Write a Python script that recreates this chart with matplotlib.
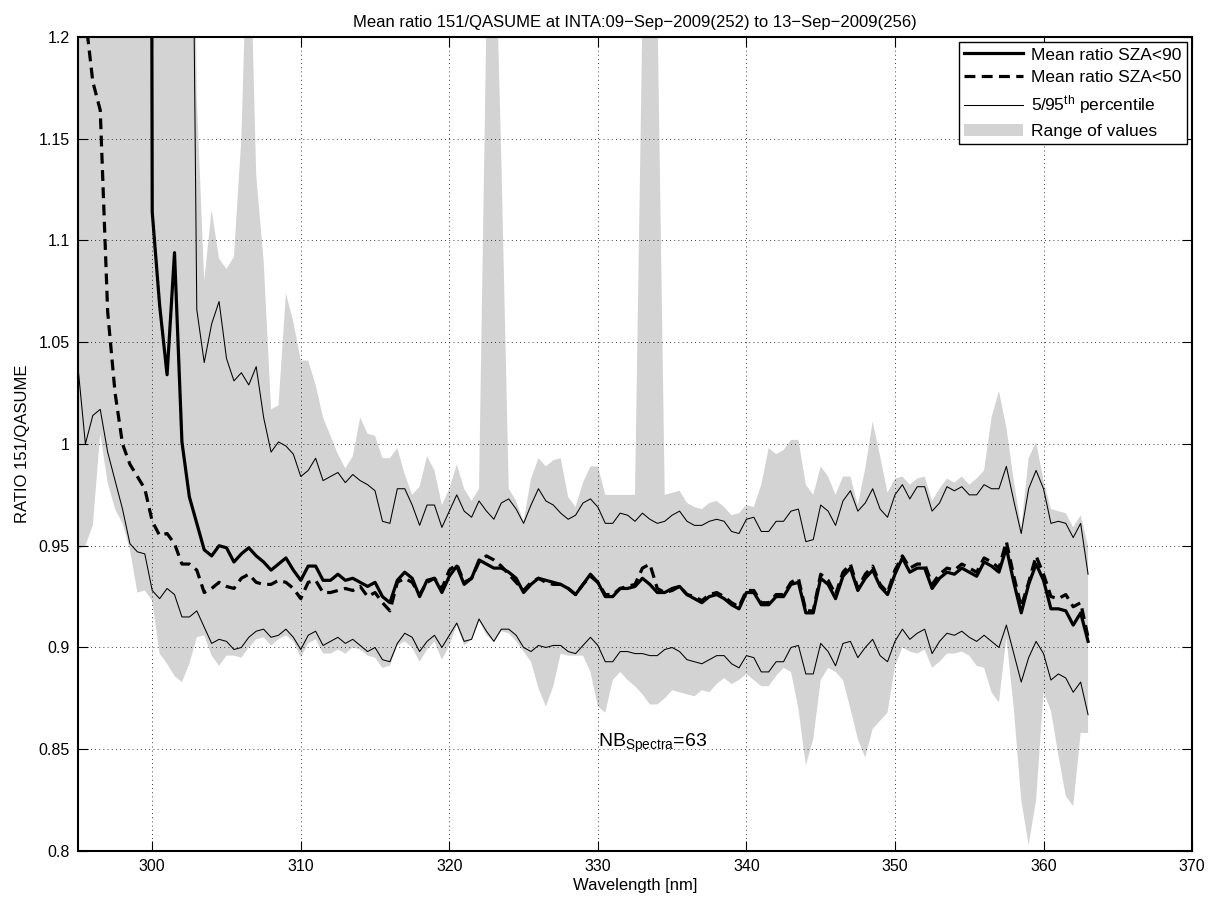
import numpy as np
import matplotlib
matplotlib.use("Agg")
import matplotlib.pyplot as plt
from matplotlib.patches import Patch
from matplotlib.lines import Line2D
from matplotlib.ticker import FuncFormatter

plt.rcParams['font.family'] = ['Liberation Sans', 'DejaVu Sans']
plt.rcParams['mathtext.default'] = 'regular'

# wavelength grid, 0.5 nm steps from 295 to 363 nm
wl = np.arange(295, 363.25, 0.5)

# mean ratio, all spectra (SZA<90)
mean90 = [2.9, 2.9, 2.9, 2.9, 2.9, 2.9, 2.9, 2.9, 2.9, 2.9,
          1.114, 1.068, 1.034, 1.094, 1.001, 0.974, 0.961, 0.948, 0.945, 0.950,
          0.949, 0.942, 0.946, 0.949, 0.945, 0.942, 0.938, 0.941, 0.944, 0.938,
          0.933, 0.940, 0.940, 0.933, 0.933, 0.936, 0.933, 0.934, 0.932, 0.930,
          0.932, 0.925, 0.922, 0.933, 0.937, 0.934, 0.925, 0.933, 0.934, 0.927,
          0.935, 0.940, 0.931, 0.934, 0.943, 0.941, 0.939, 0.939, 0.937, 0.934,
          0.927, 0.931, 0.934, 0.933, 0.932, 0.931, 0.929, 0.926, 0.931, 0.936,
          0.932, 0.925, 0.925, 0.929, 0.929, 0.930, 0.934, 0.931, 0.927, 0.927,
          0.929, 0.930, 0.926, 0.924, 0.922, 0.925, 0.926, 0.924, 0.921, 0.919,
          0.927, 0.927, 0.921, 0.921, 0.925, 0.925, 0.931, 0.932, 0.917, 0.917,
          0.934, 0.931, 0.924, 0.935, 0.939, 0.928, 0.934, 0.938, 0.930, 0.926,
          0.936, 0.944, 0.937, 0.939, 0.939, 0.929, 0.934, 0.937, 0.936, 0.939,
          0.937, 0.935, 0.942, 0.940, 0.937, 0.949, 0.932, 0.917, 0.931, 0.941,
          0.933, 0.919, 0.919, 0.918, 0.911, 0.917, 0.903]

# mean ratio, SZA<50
mean50 = [1.35, 1.21, 1.178, 1.164, 1.065, 1.025, 1.0, 0.99, 0.984, 0.978,
          0.962, 0.955, 0.956, 0.951, 0.941, 0.941, 0.938, 0.927, 0.929, 0.932,
          0.930, 0.929, 0.934, 0.936, 0.932, 0.931, 0.931, 0.933, 0.932, 0.929,
          0.924, 0.932, 0.933, 0.927, 0.927, 0.928, 0.929, 0.928, 0.930, 0.925,
          0.927, 0.922, 0.918, 0.932, 0.934, 0.932, 0.926, 0.932, 0.934, 0.929,
          0.938, 0.941, 0.932, 0.934, 0.942, 0.945, 0.943, 0.940, 0.936, 0.932,
          0.928, 0.932, 0.934, 0.932, 0.931, 0.931, 0.929, 0.926, 0.931, 0.935,
          0.932, 0.926, 0.926, 0.929, 0.930, 0.931, 0.939, 0.941, 0.929, 0.927,
          0.928, 0.930, 0.926, 0.925, 0.923, 0.926, 0.927, 0.925, 0.922, 0.920,
          0.928, 0.928, 0.922, 0.922, 0.926, 0.926, 0.932, 0.934, 0.918, 0.918,
          0.936, 0.933, 0.926, 0.937, 0.941, 0.929, 0.936, 0.940, 0.931, 0.927,
          0.938, 0.945, 0.939, 0.941, 0.941, 0.931, 0.936, 0.939, 0.938, 0.941,
          0.939, 0.937, 0.944, 0.942, 0.939, 0.952, 0.935, 0.920, 0.932, 0.945,
          0.936, 0.925, 0.924, 0.926, 0.920, 0.922, 0.905]

# 95th percentile
p95 = [1.62, 1.60, 1.58, 1.57, 1.55, 1.52, 1.50, 1.48, 1.46, 1.45,
       1.44, 1.42, 1.40, 1.38, 1.36, 1.45, 1.066, 1.040, 1.059, 1.070,
       1.042, 1.031, 1.035, 1.029, 1.038, 1.013, 0.996, 1.001, 0.999, 0.995,
       0.984, 0.987, 0.993, 0.982, 0.984, 0.986, 0.981, 0.985, 0.982, 0.980,
       0.977, 0.962, 0.961, 0.978, 0.978, 0.970, 0.960, 0.970, 0.970, 0.959,
       0.967, 0.975, 0.967, 0.964, 0.972, 0.967, 0.963, 0.971, 0.973, 0.968,
       0.961, 0.970, 0.978, 0.972, 0.970, 0.966, 0.963, 0.965, 0.971, 0.973,
       0.969, 0.961, 0.961, 0.966, 0.965, 0.962, 0.966, 0.963, 0.961, 0.962,
       0.965, 0.967, 0.962, 0.960, 0.960, 0.962, 0.963, 0.962, 0.957, 0.956,
       0.963, 0.964, 0.957, 0.957, 0.962, 0.962, 0.967, 0.968, 0.952, 0.953,
       0.970, 0.967, 0.960, 0.972, 0.977, 0.967, 0.971, 0.978, 0.968, 0.964,
       0.975, 0.980, 0.973, 0.979, 0.979, 0.967, 0.971, 0.979, 0.977, 0.979,
       0.975, 0.975, 0.980, 0.978, 0.978, 0.989, 0.972, 0.956, 0.978, 0.987,
       0.978, 0.961, 0.962, 0.961, 0.954, 0.961, 0.936]

# 5th percentile
p05 = [1.038, 1.000, 1.014, 1.017, 0.996, 0.982, 0.968, 0.951, 0.947, 0.946,
       0.928, 0.924, 0.929, 0.926, 0.915, 0.915, 0.918, 0.910, 0.902, 0.904,
       0.903, 0.899, 0.900, 0.905, 0.908, 0.909, 0.905, 0.906, 0.909, 0.905,
       0.899, 0.906, 0.908, 0.901, 0.903, 0.905, 0.902, 0.904, 0.901, 0.898,
       0.900, 0.894, 0.893, 0.902, 0.907, 0.905, 0.898, 0.903, 0.906, 0.900,
       0.906, 0.912, 0.903, 0.904, 0.914, 0.908, 0.903, 0.909, 0.909, 0.906,
       0.900, 0.898, 0.901, 0.900, 0.901, 0.901, 0.898, 0.897, 0.901, 0.905,
       0.901, 0.893, 0.893, 0.898, 0.898, 0.897, 0.897, 0.896, 0.896, 0.899,
       0.900, 0.898, 0.894, 0.893, 0.892, 0.894, 0.896, 0.896, 0.892, 0.890,
       0.896, 0.895, 0.888, 0.888, 0.893, 0.893, 0.900, 0.901, 0.887, 0.887,
       0.902, 0.898, 0.891, 0.902, 0.903, 0.895, 0.900, 0.904, 0.896, 0.893,
       0.903, 0.909, 0.904, 0.907, 0.909, 0.897, 0.903, 0.907, 0.906, 0.908,
       0.905, 0.903, 0.906, 0.903, 0.900, 0.911, 0.897, 0.883, 0.895, 0.903,
       0.897, 0.884, 0.887, 0.885, 0.878, 0.883, 0.867]

# full range of values (max / min)
range_hi = [1.75, 1.75, 1.75, 1.75, 1.75, 1.75, 1.75, 1.75, 1.75, 1.75,
            1.7, 1.7, 1.7, 1.7, 1.6, 1.5, 1.17, 1.08, 1.115, 1.091,
            1.086, 1.092, 1.15, 1.275, 1.132, 1.09, 1.017, 1.019, 1.074, 1.06,
            1.041, 1.041, 1.029, 1.013, 1.004, 0.995, 0.988, 0.994, 1.013, 1.005,
            1.004, 0.993, 0.993, 0.998, 0.985, 0.975, 0.979, 0.994, 0.987, 0.970,
            0.978, 0.990, 0.978, 0.972, 0.978, 1.21, 1.28, 1.14, 0.978, 0.972,
            0.962, 0.983, 0.993, 0.989, 0.992, 0.993, 0.974, 0.969, 0.981, 0.989,
            0.989, 0.975, 0.975, 0.975, 0.975, 0.975, 1.21, 1.30, 1.22, 0.975,
            0.976, 0.977, 0.971, 0.969, 0.968, 0.971, 0.972, 0.969, 0.965, 0.966,
            0.970, 0.969, 0.980, 0.998, 0.995, 0.997, 1.002, 1.002, 0.980, 0.975,
            0.989, 0.984, 0.975, 0.984, 0.984, 0.970, 0.988, 1.011, 0.994, 0.976,
            0.983, 0.984, 0.980, 0.983, 0.984, 0.972, 0.978, 0.983, 0.981, 0.984,
            0.980, 0.983, 0.987, 1.013, 1.026, 1.008, 0.982, 0.959, 0.993, 1.001,
            0.982, 0.968, 0.967, 0.966, 0.959, 0.965, 0.950]

range_lo = [0.948, 0.950, 0.960, 1.005, 0.981, 0.968, 0.961, 0.948, 0.927, 0.928,
            0.923, 0.897, 0.892, 0.886, 0.883, 0.892, 0.905, 0.906, 0.896, 0.891,
            0.896, 0.896, 0.895, 0.900, 0.904, 0.905, 0.901, 0.904, 0.906, 0.903,
            0.895, 0.902, 0.904, 0.897, 0.897, 0.899, 0.897, 0.900, 0.899, 0.896,
            0.895, 0.890, 0.891, 0.901, 0.903, 0.900, 0.893, 0.899, 0.903, 0.894,
            0.901, 0.911, 0.901, 0.904, 0.913, 0.906, 0.903, 0.908, 0.907, 0.903,
            0.898, 0.893, 0.880, 0.871, 0.881, 0.897, 0.896, 0.896, 0.896, 0.888,
            0.871, 0.868, 0.884, 0.888, 0.884, 0.881, 0.877, 0.872, 0.872, 0.875,
            0.879, 0.878, 0.877, 0.876, 0.879, 0.878, 0.882, 0.885, 0.882, 0.884,
            0.887, 0.884, 0.881, 0.881, 0.886, 0.890, 0.888, 0.870, 0.842, 0.855,
            0.884, 0.890, 0.888, 0.884, 0.870, 0.855, 0.846, 0.860, 0.864, 0.868,
            0.891, 0.900, 0.898, 0.897, 0.899, 0.890, 0.893, 0.897, 0.897, 0.898,
            0.896, 0.891, 0.890, 0.878, 0.873, 0.905, 0.870, 0.825, 0.803, 0.825,
            0.878, 0.869, 0.847, 0.827, 0.822, 0.858, 0.858]

n_spectra = 63

fig = plt.figure(figsize=(12.18, 9.01), dpi=100)
ax = fig.add_axes([0.064, 0.0555, 0.9147, 0.9035])

ax.fill_between(wl, range_lo, range_hi, color='#d3d3d3', lw=0)
ax.plot(wl, p95, color='k', lw=0.75)
ax.plot(wl, p05, color='k', lw=0.75)
ax.plot(wl, mean50, color='k', lw=2.3, dashes=(3.4, 2.0))
ax.plot(wl, mean90, color='k', lw=2.3)

ax.set_xlim(295, 370)
ax.set_ylim(0.8, 1.2)
ax.set_xticks(np.arange(300, 371, 10))
ax.set_yticks(np.arange(0.8, 1.201, 0.05))
ax.yaxis.set_major_formatter(FuncFormatter(lambda v, p: '%g' % round(v, 2)))
ax.tick_params(direction='in', length=7, width=0.8, top=True, right=True,
               labelsize=11.5, pad=6)
ax.grid(True, color='k', linestyle=(0, (1, 4)), lw=0.6)
ax.set_axisbelow(False)
for s in ax.spines.values():
    s.set_linewidth(1.5)

ax.set_title('Mean ratio 151/QASUME at INTA:09\u2212Sep\u22122009(252) to '
             '13\u2212Sep\u22122009(256)', fontsize=12, pad=7)
ax.set_xlabel('Wavelength [nm]', fontsize=12, labelpad=3)
ax.set_ylabel('RATIO 151/QASUME', fontsize=12, labelpad=6)

ax.text(330, 0.851, 'NB$_{Spectra}$=%d' % n_spectra, fontsize=14,
        va='baseline', ha='left')

handles = [Line2D([], [], color='k', lw=2.3),
           Line2D([], [], color='k', lw=2.3, dashes=(3.4, 2.0)),
           Line2D([], [], color='k', lw=0.75),
           Patch(facecolor='#d3d3d3', edgecolor='none')]
labels = ['Mean ratio SZA<90', 'Mean ratio SZA<50',
          '5/95$^{th}$ percentile', 'Range of values']
leg = ax.legend(handles, labels, loc='upper right', fontsize=12.5,
                handlelength=3.4, handletextpad=0.45, borderaxespad=0.3,
                labelspacing=0.45, fancybox=False, framealpha=1,
                edgecolor='k', borderpad=0.3)
leg.get_frame().set_linewidth(1.0)

fig.savefig('out.png', dpi=100)
